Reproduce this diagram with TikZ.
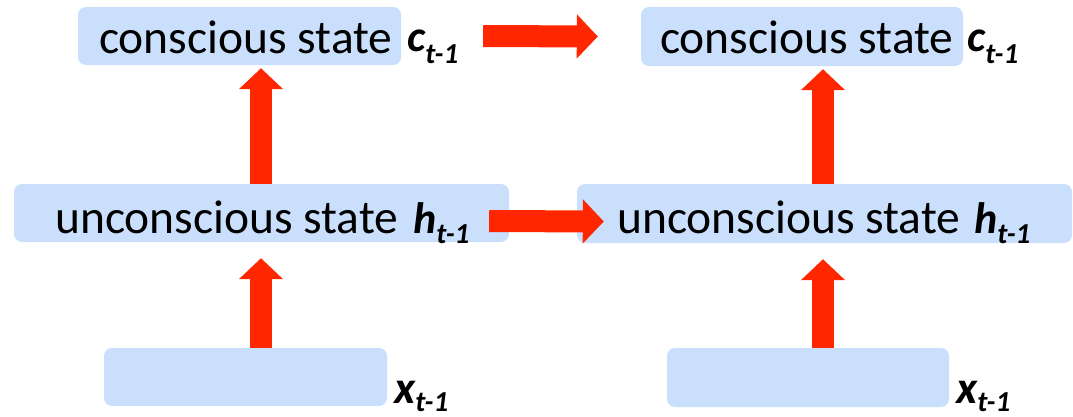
\documentclass[tikz,border=0pt]{standalone}
\usepackage{fontspec}
\setmainfont{Carlito}
\usetikzlibrary{arrows.meta,calc}
\definecolor{boxblue}{RGB}{201,223,252}
\definecolor{arrred}{RGB}{255,38,0}
\newcommand\mainsz{\fontsize{47.5}{56}\selectfont}
\newcommand\varlab[3]{{\fontsize{#2}{#2}\selectfont\bfseries\itshape #1}\raisebox{-#3pt}[\height][0pt]{\fontsize{29}{29}\selectfont\bfseries\itshape t-1}}
\begin{document}
\begin{tikzpicture}[x=1pt,y=-1pt,
  statebox/.style={rectangle, rounded corners=8pt, fill=boxblue, draw=none, inner sep=0pt},
  txt/.style={inner sep=0pt, anchor=base west, font=\mainsz},
  lbl/.style={inner sep=0pt, anchor=base west},
  bigarrow/.style={draw=arrred, line width=22pt, -{Triangle[length=21pt,width=43pt]}, arrred}]
\useasboundingbox (0,0) rectangle (1073,416);
% boxes
\node[statebox, minimum width=323pt, minimum height=58pt] (c1) at (239.5,36) {};
\node[statebox, minimum width=322pt, minimum height=59pt] (c2) at (802,36.5) {};
\node[statebox, minimum width=495pt, minimum height=58pt] (h1) at (261.5,213) {};
\node[statebox, minimum width=495pt, minimum height=59pt] (h2) at (824.5,213.5) {};
\node[statebox, minimum width=283pt, minimum height=58pt] (x1) at (245.5,377) {};
\node[statebox, minimum width=282pt, minimum height=59pt] (x2) at (808,377.5) {};
% texts
\node[txt] (c1t) at (99,53) {conscious state};
\node[txt] (c2t) at (660,53) {conscious state};
\node[txt] (h1t) at (55,233) {unconscious state};
\node[txt] (h2t) at (617,233) {unconscious state};
\node[lbl] (c1l) at (407,51) {\varlab{c}{44}{12}};
\node[lbl] (c2l) at (967,51) {\varlab{c}{44}{12}};
\node[lbl] (h1l) at (413,233) {\varlab{h}{44}{10}};
\node[lbl] (h2l) at (974,233) {\varlab{h}{44}{10}};
\node[lbl] (x1l) at (394,403) {\varlab{x}{46}{8}};
\node[lbl] (x2l) at (956,403) {\varlab{x}{46}{8}};
% arrows
\draw[bigarrow] ($(x1.north -| h1.south)+(-0.5,0)$) -- ($(h1.south)+(-0.5,16)$);
\draw[bigarrow] ($(h1.north)+(-0.5,0)$) -- ($(h1.north |- c1.south)+(-0.5,3)$);
\draw[bigarrow] ($(x2.north -| h2.south)+(-1.5,0)$) -- ($(h2.south)+(-1.5,16)$);
\draw[bigarrow] ($(h2.north)+(-1.5,0)$) -- ($(h2.north |- c2.south)+(-1.5,3)$);
\draw[bigarrow] ($(c1.east)+(82,0)$) -- ($(c2.west)+(-43,0)$);
\draw[bigarrow] ($(h1.east)+(-20,8)$) -- ($(h2.west)+(27,8)$);
\end{tikzpicture}
\end{document}
